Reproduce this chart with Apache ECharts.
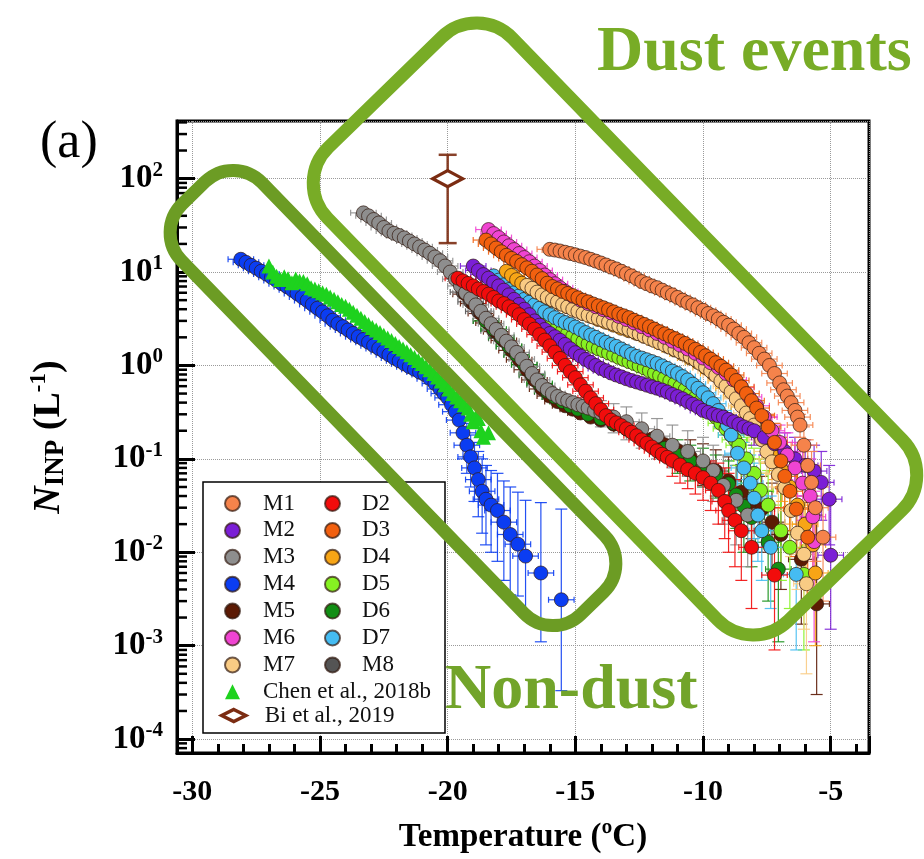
<!DOCTYPE html>
<html>
<head>
<meta charset="utf-8">
<script src="https://cdn.jsdelivr.net/npm/echarts@6/dist/echarts.min.js"></script>
<style>
  html, body { margin: 0; padding: 0; background: #fff; }
  #chart { width: 924px; height: 859px; }
</style>
</head>
<body>
<div id="chart"></div>
<script>
// INP number concentration vs. temperature, one array per sample: [T, N] or [T, N, Nlow, Nhigh]
const m1 = [[-16.0,17.5],[-15.8,17.2],[-15.6,16.8],[-15.4,16.3],[-15.2,15.8],[-15.0,15.3],[-14.8,14.8],[-14.6,14.3],[-14.4,13.7],[-14.2,13.1],[-14.0,12.5],[-13.8,11.9],[-13.6,11.3],[-13.4,10.8],[-13.2,10.2],[-13.0,9.6],[-12.8,9.1],[-12.6,8.5],[-12.4,7.9],[-12.2,7.5],[-12.0,7.1],[-11.8,6.8],[-11.6,6.4],[-11.4,6.0],[-11.2,5.7],[-11.0,5.35],[-10.8,5.0],[-10.6,4.7],[-10.4,4.45],[-10.2,4.15],[-10.0,3.9],[-9.8,3.6],[-9.6,3.4],[-9.4,3.15],[-9.2,2.9],[-9.0,2.7],[-8.8,2.45],[-8.6,2.2],[-8.4,2.0],[-8.2,1.75],[-8.0,1.55],[-7.8,1.35],[-7.6,1.17],[-7.4,1.0],[-7.2,0.82],[-7.0,0.65],[-6.85,0.55],[-6.7,0.47],[-6.55,0.4],[-6.4,0.33],[-6.3,0.28],[-6.2,0.23,0.17,0.3],[-6.05,0.14,0.08,0.22],[-5.9,0.085,0.04,0.16],[-5.75,0.056,0.02,0.12],[-5.6,0.03,0.008,0.08],[-5.3,0.0145,0.003,0.05]];
const m2 = [[-19.0,11.6],[-18.8,10.4],[-18.6,9.4],[-18.4,8.6],[-18.2,7.8],[-18.0,7.1],[-17.8,6.4],[-17.6,5.7],[-17.4,5.1],[-17.2,4.5],[-17.0,4.0],[-16.8,3.5],[-16.6,3.0],[-16.4,2.7],[-16.2,2.43],[-16.0,2.2],[-15.8,2.03],[-15.6,1.86],[-15.4,1.68],[-15.2,1.51],[-15.0,1.37],[-14.8,1.26],[-14.6,1.16],[-14.4,1.08],[-14.2,1.0],[-14.0,0.93],[-13.8,0.88],[-13.6,0.83],[-13.4,0.79],[-13.2,0.755],[-13.0,0.72],[-12.8,0.69],[-12.6,0.665],[-12.4,0.64],[-12.2,0.615],[-12.0,0.59],[-11.8,0.57],[-11.6,0.545],[-11.4,0.52],[-11.2,0.49],[-11.0,0.465],[-10.8,0.44],[-10.6,0.41],[-10.4,0.385],[-10.2,0.36],[-10.0,0.33],[-9.8,0.315],[-9.6,0.3],[-9.4,0.29],[-9.2,0.28],[-9.0,0.265],[-8.8,0.25],[-8.6,0.235],[-8.4,0.22],[-8.2,0.21],[-8.0,0.2,0.14,0.27],[-7.6,0.17,0.11,0.24],[-7.2,0.145,0.09,0.21],[-6.8,0.12,0.07,0.19],[-6.4,0.1,0.055,0.17],[-6.0,0.085,0.04,0.16],[-5.65,0.074,0.035,0.14],[-5.37,0.056,0.022,0.12],[-5.06,0.037,0.012,0.085],[-5.0,0.0093,0.0015,0.035]];
const m3 = [[-23.3,43],[-23.1,40],[-22.9,36.5],[-22.7,33.5],[-22.5,30],[-22.3,27.5],[-22.1,26],[-21.9,24.6],[-21.7,23.2],[-21.5,21.5],[-21.3,20],[-21.1,18.6],[-20.9,17.2],[-20.7,15.9],[-20.5,14.5],[-20.3,13.2],[-20.1,11.6],[-19.9,10.0],[-19.7,8.4],[-19.5,7.1],[-19.3,6.0],[-19.1,5.2],[-18.9,4.45],[-18.7,3.8],[-18.5,3.2],[-18.3,2.8],[-18.1,2.43],[-17.9,2.1],[-17.7,1.82],[-17.5,1.58],[-17.3,1.38],[-17.1,1.17],[-16.9,0.98],[-16.7,0.82],[-16.5,0.7],[-16.3,0.61],[-16.1,0.55],[-15.9,0.5],[-15.7,0.465],[-15.5,0.44],[-15.3,0.42],[-15.1,0.4],[-14.9,0.38],[-14.7,0.365],[-14.5,0.35],[-14.25,0.33],[-14.0,0.31,0.22,0.42],[-13.5,0.28,0.19,0.39],[-13.0,0.25,0.16,0.36],[-12.4,0.21,0.13,0.31],[-11.8,0.175,0.1,0.27],[-11.2,0.14,0.08,0.23],[-10.6,0.12,0.065,0.2],[-10.0,0.095,0.05,0.17],[-9.6,0.075,0.035,0.14],[-9.2,0.052,0.02,0.11],[-8.7,0.036,0.012,0.085],[-8.25,0.025,0.007,0.065]];
const m4 = [[-28.1,13.7],[-27.9,12.7],[-27.7,11.8],[-27.5,11.0],[-27.3,10.2],[-27.1,9.5],[-26.9,8.8],[-26.7,8.1],[-26.5,7.5],[-26.3,7.0],[-26.1,6.45],[-25.9,5.9],[-25.7,5.4],[-25.5,4.95],[-25.3,4.5],[-25.1,4.1],[-24.9,3.75],[-24.7,3.4],[-24.5,3.05],[-24.3,2.8],[-24.1,2.6],[-23.9,2.4],[-23.7,2.2],[-23.5,2.03],[-23.3,1.9],[-23.1,1.77],[-22.9,1.63],[-22.7,1.52],[-22.5,1.41],[-22.3,1.3],[-22.1,1.2],[-21.9,1.12],[-21.7,1.04],[-21.5,0.97],[-21.3,0.91],[-21.1,0.85],[-20.9,0.8],[-20.7,0.72],[-20.5,0.64],[-20.3,0.56],[-20.15,0.5],[-20.0,0.45],[-19.85,0.38],[-19.7,0.32],[-19.55,0.26],[-19.4,0.19,0.1,0.3],[-19.25,0.14,0.07,0.24],[-19.1,0.105,0.05,0.18],[-18.95,0.08,0.035,0.15],[-18.8,0.06,0.024,0.12],[-18.65,0.045,0.016,0.1],[-18.5,0.037,0.012,0.085],[-18.3,0.032,0.01,0.075],[-18.05,0.028,0.008,0.07],[-17.8,0.021,0.005,0.058],[-17.55,0.0155,0.0035,0.05],[-17.25,0.0122,0.0034,0.044],[-16.95,0.0091,0.0022,0.036],[-16.35,0.006,0.0011,0.034],[-15.55,0.0031,0.00033,0.029]];
const m5 = [[-19.3,5.8],[-19.0,4.6],[-18.7,3.6],[-18.4,2.85],[-18.1,2.3],[-17.8,1.85],[-17.5,1.45],[-17.2,1.15],[-16.9,0.9],[-16.6,0.7],[-16.3,0.56],[-16.0,0.47],[-15.7,0.41],[-15.4,0.37],[-15.1,0.34],[-14.8,0.31],[-14.4,0.28],[-14.0,0.26],[-13.5,0.235],[-13.0,0.21],[-12.5,0.185],[-12.0,0.163],[-11.5,0.142],[-11.0,0.123],[-10.5,0.105,0.065,0.16],[-10.0,0.09,0.052,0.145],[-9.5,0.074,0.04,0.125],[-9.0,0.058,0.029,0.105],[-8.5,0.044,0.019,0.087],[-8.1,0.035,0.014,0.075],[-7.7,0.029,0.01,0.065],[-7.3,0.021,0.006,0.055],[-6.95,0.0155,0.004,0.048],[-6.15,0.0084,0.0017,0.034],[-5.55,0.0028,0.0003,0.025]];
const m6 = [[-18.4,28.5],[-18.2,25.8],[-18.0,23.4],[-17.8,21],[-17.6,19.1],[-17.4,17.4],[-17.2,15.8],[-17.0,14.3],[-16.8,12.9],[-16.6,11.6],[-16.4,10.4],[-16.2,9.3],[-16.0,8.3],[-15.8,7.5],[-15.6,6.8],[-15.4,6.2],[-15.1,5.5],[-14.8,5.0],[-14.5,4.6],[-14.2,4.25],[-13.9,3.95],[-13.6,3.65],[-13.3,3.35],[-13.0,3.1],[-12.7,2.85],[-12.4,2.6],[-12.1,2.4],[-11.8,2.2],[-11.5,2.0],[-11.2,1.82],[-10.9,1.65],[-10.6,1.5],[-10.3,1.35],[-10.0,1.2],[-9.7,1.07],[-9.4,0.95],[-9.1,0.82],[-8.8,0.7],[-8.5,0.58],[-8.2,0.46],[-7.9,0.37],[-7.6,0.28],[-7.3,0.2,0.13,0.28],[-7.0,0.15,0.09,0.23],[-6.7,0.11,0.06,0.19],[-6.4,0.08,0.04,0.15],[-6.1,0.055,0.022,0.12],[-5.8,0.04,0.014,0.1],[-5.7,0.024,0.006,0.065],[-5.65,0.013,0.0011,0.045]];
const m7 = [[-16.9,7.2],[-16.7,6.7],[-16.5,6.1],[-16.3,5.7],[-16.1,5.35],[-15.9,5.05],[-15.7,4.8],[-15.5,4.5],[-15.3,4.25],[-15.1,4.0],[-14.9,3.8],[-14.7,3.6],[-14.5,3.45],[-14.3,3.3],[-14.1,3.18],[-13.9,3.05],[-13.7,2.9],[-13.5,2.78],[-13.3,2.65],[-13.1,2.55],[-12.9,2.43],[-12.7,2.3],[-12.5,2.18],[-12.3,2.06],[-12.1,1.95],[-11.9,1.85],[-11.7,1.75],[-11.5,1.66],[-11.3,1.57],[-11.1,1.48],[-10.9,1.4],[-10.7,1.32],[-10.5,1.24],[-10.3,1.15],[-10.1,1.05],[-9.9,0.96],[-9.7,0.87],[-9.5,0.78],[-9.3,0.68],[-9.1,0.6],[-8.9,0.52],[-8.7,0.44],[-8.5,0.37],[-8.3,0.31],[-8.15,0.27],[-8.0,0.23],[-7.85,0.19],[-7.7,0.16,0.1,0.24],[-7.5,0.12,0.07,0.2],[-7.3,0.093,0.05,0.16],[-7.05,0.068,0.03,0.13],[-6.8,0.049,0.02,0.1],[-6.55,0.028,0.009,0.07],[-6.3,0.016,0.004,0.05],[-6.05,0.0095,0.0015,0.035],[-5.95,0.0046,0.0005,0.025]];
const m8 = [[-19.4,6.1],[-19.1,4.8],[-18.8,3.8],[-18.5,3.0],[-18.2,2.35],[-17.9,1.95],[-17.6,1.6],[-17.3,1.3],[-17.0,1.02],[-16.7,0.78],[-16.4,0.62],[-16.1,0.52],[-15.8,0.46],[-15.5,0.42]];
const d2 = [[-19.6,8.6],[-19.4,8.05],[-19.2,7.55],[-19.0,7.1],[-18.8,6.6],[-18.6,6.2],[-18.4,5.8],[-18.2,5.35],[-18.0,4.9],[-17.8,4.6],[-17.6,4.25],[-17.4,3.9],[-17.2,3.5],[-17.0,3.1],[-16.8,2.78],[-16.6,2.45],[-16.4,2.14],[-16.2,1.87],[-16.0,1.62],[-15.8,1.39],[-15.6,1.19],[-15.4,1.0],[-15.2,0.86],[-15.0,0.74],[-14.8,0.62],[-14.6,0.53],[-14.4,0.45],[-14.2,0.39],[-14.0,0.335],[-13.8,0.29],[-13.6,0.26],[-13.4,0.243],[-13.2,0.227],[-13.0,0.21],[-12.8,0.193],[-12.6,0.177],[-12.4,0.16],[-12.2,0.147],[-12.0,0.134],[-11.8,0.122],[-11.6,0.112],[-11.4,0.104],[-11.2,0.096,0.065,0.13],[-10.9,0.086,0.055,0.12],[-10.6,0.077,0.048,0.11],[-10.3,0.07,0.042,0.105],[-10.0,0.063,0.036,0.1],[-9.7,0.055,0.028,0.095],[-9.4,0.046,0.02,0.09],[-9.15,0.035,0.014,0.08],[-9.0,0.028,0.01,0.07],[-8.75,0.022,0.007,0.06],[-8.5,0.017,0.005,0.05],[-8.1,0.0113,0.0025,0.04],[-7.2,0.0057,0.0009,0.03]];
const d3 = [[-18.5,22],[-18.3,20],[-18.1,18.1],[-17.9,16.5],[-17.7,15.1],[-17.5,14.0],[-17.3,13.0],[-17.1,12.0],[-16.9,11.1],[-16.7,10.2],[-16.5,9.3],[-16.3,8.5],[-16.1,7.6],[-15.9,7.0],[-15.7,6.6],[-15.5,6.2],[-15.3,5.9],[-15.1,5.6],[-14.9,5.3],[-14.7,5.0],[-14.5,4.8],[-14.3,4.55],[-14.1,4.35],[-13.9,4.15],[-13.7,3.95],[-13.5,3.75],[-13.3,3.55],[-13.1,3.4],[-12.9,3.25],[-12.7,3.05],[-12.5,2.9],[-12.3,2.75],[-12.1,2.6],[-11.9,2.45],[-11.7,2.3],[-11.5,2.18],[-11.3,2.05],[-11.1,1.94],[-10.9,1.83],[-10.7,1.72],[-10.5,1.6],[-10.3,1.49],[-10.1,1.38],[-9.9,1.27],[-9.7,1.17],[-9.5,1.07],[-9.3,0.98],[-9.1,0.89],[-8.9,0.79],[-8.7,0.69],[-8.5,0.59],[-8.3,0.5],[-8.1,0.42],[-7.9,0.35],[-7.7,0.29],[-7.45,0.22,0.15,0.3],[-7.2,0.15,0.09,0.24],[-6.95,0.095,0.05,0.17],[-6.8,0.065,0.03,0.13],[-6.6,0.045,0.017,0.1],[-6.35,0.029,0.009,0.075],[-5.9,0.0145,0.003,0.05]];
const d4 = [[-17.7,10.2],[-17.5,9.2],[-17.3,8.3],[-17.1,7.6],[-16.8,6.8],[-16.5,6.1],[-16.2,5.5],[-15.9,5.0],[-15.6,4.6],[-15.3,4.25],[-15.0,3.9],[-14.7,3.6],[-14.4,3.35],[-14.1,3.1],[-13.8,2.9],[-13.5,2.7],[-13.2,2.5],[-12.9,2.35],[-12.6,2.2],[-12.3,2.05],[-12.0,1.9],[-11.7,1.75],[-11.4,1.6],[-11.1,1.46],[-10.8,1.33],[-10.5,1.2],[-10.2,1.08],[-9.9,0.95],[-9.6,0.82],[-9.3,0.69],[-9.0,0.57],[-8.7,0.46],[-8.4,0.36],[-8.1,0.28],[-7.8,0.21],[-7.5,0.15,0.09,0.24],[-7.2,0.105,0.06,0.18],[-6.9,0.075,0.035,0.14],[-6.6,0.05,0.02,0.1],[-6.3,0.032,0.011,0.075],[-6.0,0.02,0.006,0.055],[-5.7,0.012,0.003,0.04],[-5.6,0.006,0.001,0.03]];
const d5 = [[-17.3,7.2],[-17.1,6.2],[-16.9,5.3],[-16.7,4.6],[-16.5,4.0],[-16.3,3.55],[-16.1,3.15],[-15.9,2.82],[-15.7,2.55],[-15.5,2.35],[-15.3,2.2],[-15.1,2.06],[-14.9,1.92],[-14.7,1.8],[-14.5,1.7],[-14.3,1.6],[-14.1,1.51],[-13.9,1.44],[-13.7,1.36],[-13.5,1.29],[-13.3,1.22],[-13.1,1.16],[-12.9,1.1],[-12.7,1.05],[-12.5,0.99],[-12.3,0.94],[-12.1,0.88],[-11.9,0.83],[-11.7,0.78],[-11.5,0.73],[-11.3,0.68],[-11.1,0.64],[-10.9,0.59],[-10.7,0.55],[-10.5,0.5],[-10.3,0.45],[-10.1,0.41],[-9.9,0.37],[-9.7,0.32],[-9.5,0.28],[-9.3,0.24],[-9.1,0.21],[-8.9,0.18],[-8.75,0.16],[-8.6,0.14,0.085,0.22],[-8.3,0.1,0.055,0.17],[-8.0,0.07,0.032,0.13],[-7.75,0.046,0.018,0.1],[-7.45,0.032,0.011,0.075],[-6.95,0.017,0.005,0.05],[-6.6,0.0113,0.0025,0.04],[-6.05,0.0058,0.0009,0.03]];
const d6 = [[-18.5,3.0],[-18.2,2.45],[-17.9,2.0],[-17.6,1.6],[-17.3,1.3],[-17.0,1.02],[-16.7,0.8],[-16.4,0.64],[-16.1,0.53],[-15.8,0.46],[-15.5,0.41],[-15.2,0.37],[-14.9,0.34],[-14.5,0.3],[-14.0,0.27],[-13.5,0.24],[-13.0,0.21],[-12.5,0.18],[-12.0,0.155],[-11.5,0.13],[-11.0,0.11,0.07,0.16],[-10.5,0.095,0.058,0.14],[-10.0,0.083,0.05,0.13],[-9.5,0.068,0.038,0.11],[-9.0,0.054,0.027,0.095],[-8.7,0.041,0.018,0.085],[-8.4,0.031,0.01,0.075],[-8.1,0.0235,0.007,0.06],[-7.45,0.0128,0.003,0.045],[-7.05,0.0066,0.0011,0.03]];
const d7 = [[-18.2,9.1],[-18.0,8.2],[-17.8,7.3],[-17.6,6.5],[-17.4,6.0],[-17.2,5.55],[-17.0,5.1],[-16.8,4.75],[-16.6,4.45],[-16.4,4.1],[-16.2,3.75],[-16.0,3.5],[-15.8,3.25],[-15.6,3.05],[-15.4,2.88],[-15.2,2.75],[-15.0,2.58],[-14.8,2.42],[-14.6,2.25],[-14.4,2.12],[-14.2,2.0],[-14.0,1.88],[-13.8,1.77],[-13.6,1.68],[-13.4,1.6],[-13.2,1.5],[-13.0,1.41],[-12.8,1.32],[-12.6,1.25],[-12.4,1.2],[-12.2,1.15],[-12.0,1.1],[-11.8,1.05],[-11.6,0.99],[-11.4,0.93],[-11.2,0.87],[-11.0,0.82],[-10.8,0.76],[-10.6,0.7],[-10.4,0.63],[-10.2,0.57],[-10.0,0.51],[-9.8,0.45],[-9.6,0.39],[-9.4,0.33],[-9.2,0.28],[-9.05,0.23],[-8.9,0.18,0.11,0.27],[-8.65,0.115,0.06,0.19],[-8.4,0.08,0.04,0.15],[-8.15,0.055,0.024,0.11],[-8.0,0.038,0.014,0.09],[-7.85,0.025,0.008,0.068],[-7.7,0.017,0.005,0.05],[-7.35,0.0113,0.0025,0.04],[-6.35,0.0058,0.0009,0.03]];
const chen2018b = [[-27.0,11.6],[-26.85,10.0],[-26.7,9.0],[-26.55,8.3],[-26.4,8.9],[-26.25,8.5],[-26.1,7.7],[-25.95,8.4],[-25.8,8.0],[-25.65,7.9],[-25.5,7.5],[-25.35,6.8],[-25.2,6.6],[-25.05,6.3],[-24.9,6.0],[-24.75,5.8],[-24.6,5.4],[-24.45,5.1],[-24.3,4.8],[-24.15,4.5],[-24.0,4.3],[-23.85,4.0],[-23.7,3.7],[-23.55,3.45],[-23.4,3.2],[-23.25,2.95],[-23.1,2.75],[-22.95,2.55],[-22.8,2.4],[-22.65,2.25],[-22.5,2.1],[-22.35,1.97],[-22.2,1.85],[-22.05,1.72],[-21.9,1.6],[-21.75,1.5],[-21.6,1.4],[-21.45,1.3],[-21.3,1.22],[-21.15,1.13],[-21.0,1.05],[-20.85,0.97],[-20.7,0.9],[-20.55,0.82],[-20.4,0.75],[-20.25,0.68],[-20.1,0.62],[-19.95,0.56],[-19.8,0.5],[-19.65,0.46],[-19.5,0.42],[-19.35,0.38],[-19.2,0.35],[-19.1,0.3],[-19.0,0.25],[-18.9,0.28],[-18.8,0.27],[-18.7,0.2],[-18.6,0.17],[-18.4,0.19]];
const bi2019 = [[-20.0,100,20.4,180]];

// temperature uncertainty (±, °C) shown as horizontal bars
const tempErr = 0.5;

// axis extents and legend entries
const xMin = -30.6, xMax = -3.5;
const yMin = Math.pow(10, -4.149), yMax = Math.pow(10, 2.617);
const legendLeft = ['M1','M2','M3','M4','M5','M6','M7','Chen et al., 2018b'];
const legendRight = ['D2','D3','D4','D5','D6','D7','M8'];
const legendBi = [{ name: 'Bi et al., 2019', itemStyle: { borderWidth: 3.5 } }];

const SERIF = '"Liberation Serif", "Times New Roman", serif';

// drawing order, bottom to top
const groups = [
  { name: 'M8', data: m8, color: '#545454' },
  { name: 'M5', data: m5, color: '#5C1A04' },
  { name: 'D6', data: d6, color: '#128E14' },
  { name: 'M3', data: m3, color: '#8E8E8E' },
  { name: 'D5', data: d5, color: '#86F222' },
  { name: 'D7', data: d7, color: '#45BCF2' },
  { name: 'D4', data: d4, color: '#F7A516' },
  { name: 'M7', data: m7, color: '#F9CB84' },
  { name: 'M2', data: m2, color: '#7B1FD6' },
  { name: 'D2', data: d2, color: '#F20C0C' },
  { name: 'M6', data: m6, color: '#F044D2' },
  { name: 'D3', data: d3, color: '#F2600F' },
  { name: 'M1', data: m1, color: '#F5834B' },
  { name: 'M4', data: m4, color: '#0B3DF2' },
  { name: 'Chen et al., 2018b', data: chen2018b, color: '#1ED21E', symbol: 'triangle', size: 15, noBars: true },
  { name: 'Bi et al., 2019', data: bi2019, color: '#7B2C12', symbol: 'diamond', size: [30, 16], tErr: 0, capW: 9, lw: 2.5 }
];

function seg(x1, y1, x2, y2, style) {
  return { type: 'line', shape: { x1: x1, y1: y1, x2: x2, y2: y2 }, style: style };
}

function makeErrorBars(color, tErr, capW, lw) {
  return function (params, api) {
    const t = api.value(0), n = api.value(1), lo = api.value(2), hi = api.value(3);
    const style = { stroke: color, lineWidth: lw, opacity: 0.9 };
    const kids = [];
    if (tErr > 0) {
      const a = api.coord([t - tErr, n]), b = api.coord([t + tErr, n]);
      kids.push(seg(a[0], a[1], b[0], b[1], style));
      kids.push(seg(a[0], a[1] - 3, a[0], a[1] + 3, style));
      kids.push(seg(b[0], b[1] - 3, b[0], b[1] + 3, style));
    }
    if (lo > 0 && hi > 0) {
      const a = api.coord([t, lo]), b = api.coord([t, hi]);
      kids.push(seg(a[0], a[1], b[0], b[1], style));
      kids.push(seg(a[0] - capW, a[1], a[0] + capW, a[1], style));
      kids.push(seg(b[0] - capW, b[1], b[0] + capW, b[1], style));
    }
    return { type: 'group', children: kids };
  };
}

const series = [];
groups.forEach(function (g) {
  if (!g.noBars) {
    series.push({
      type: 'custom',
      name: g.name + ' error',
      silent: true,
      renderItem: makeErrorBars(g.color, g.tErr === undefined ? tempErr : g.tErr, g.capW || 6, g.lw || 1.2),
      data: g.data.map(function (p) { return [p[0], p[1], p[2] || 0, p[3] || 0]; }),
      encode: { x: 0, y: 1 },
      clip: false,
      z: 2
    });
  }
  const isBi = g.symbol === 'diamond';
  series.push({
    type: 'scatter',
    name: g.name,
    data: g.data.map(function (p) { return [p[0], p[1]]; }),
    symbol: g.symbol || 'circle',
    symbolSize: g.size || 14,
    itemStyle: isBi
      ? { color: '#fff', borderColor: g.color, borderWidth: 3.5, opacity: 1 }
      : (g.symbol === 'triangle'
        ? { color: g.color, opacity: 1 }
        : { color: g.color, borderColor: 'rgba(50,25,15,0.7)', borderWidth: 1, opacity: 1 }),
    emphasis: { disabled: true },
    z: 2
  });
});

// logarithmic minor ticks on the left axis
const yMinor = [];
for (let k = -5; k <= 2; k++) {
  for (let m = 2; m <= 9; m++) {
    const v = m * Math.pow(10, k);
    if (v > yMin && v < yMax) yMinor.push([xMin, v]);
  }
}
series.push({
  type: 'custom',
  name: 'minor ticks',
  silent: true,
  clip: false,
  encode: { x: 0, y: 1 },
  data: yMinor,
  renderItem: function (params, api) {
    const y = api.coord([api.value(0), api.value(1)])[1];
    const x0 = params.coordSys.x;
    return seg(x0, y, x0 + 10, y, { stroke: '#000', lineWidth: 2.5 });
  },
  z: 3
});

const legendText = { fontFamily: SERIF, fontSize: 23, color: '#111', lineHeight: 20 };

const option = {
  animation: false,
  backgroundColor: '#fff',
  textStyle: { fontFamily: SERIF },
  grid: { left: 177, right: 55, top: 121, bottom: 103, show: true, borderColor: '#000', borderWidth: 3, backgroundColor: 'transparent' },
  xAxis: {
    type: 'value',
    min: xMin,
    max: xMax,
    splitNumber: 5,
    name: 'Temperature (ºC)',
    nameLocation: 'middle',
    nameGap: 68,
    nameTextStyle: { fontFamily: SERIF, fontWeight: 'bold', fontSize: 33, color: '#000' },
    axisLine: { show: true, lineStyle: { color: '#000', width: 3 } },
    axisTick: { show: true, inside: true, length: 17, lineStyle: { color: '#000', width: 3 } },
    minorTick: { show: true, splitNumber: 5, length: 9, lineStyle: { color: '#000', width: 3 } },
    axisLabel: {
      margin: 24,
      showMinLabel: false,
      showMaxLabel: false,
      fontFamily: SERIF, fontWeight: 'bold', fontSize: 30, color: '#000',
      formatter: function (v) { return Math.abs(v - Math.round(v)) < 1e-6 ? String(Math.round(v)) : ''; }
    },
    splitLine: { show: true, lineStyle: { color: '#9a9a9a', type: 'dotted', width: 1 } }
  },
  yAxis: {
    type: 'log',
    logBase: 10,
    min: yMin,
    max: yMax,
    name: '{i|N}{sub|INP}{p| (L}{sup|-1}{p|)}',
    nameLocation: 'middle',
    nameRotate: 90,
    nameGap: 107,
    nameTextStyle: {
      color: '#000',
      rich: {
        i: { fontFamily: SERIF, fontStyle: 'italic', fontWeight: 'bold', fontSize: 38, lineHeight: 42, color: '#000' },
        sub: { fontFamily: SERIF, fontWeight: 'bold', fontSize: 27, lineHeight: 26, verticalAlign: 'bottom', color: '#000' },
        p: { fontFamily: SERIF, fontWeight: 'bold', fontSize: 38, lineHeight: 42, color: '#000' },
        sup: { fontFamily: SERIF, fontWeight: 'bold', fontSize: 23, lineHeight: 20, verticalAlign: 'top', color: '#000' }
      }
    },
    axisLine: { show: true, lineStyle: { color: '#000', width: 3 } },
    axisTick: { show: true, inside: true, length: 18, lineStyle: { color: '#000', width: 3 } },
    axisLabel: {
      margin: 14,
      showMinLabel: false,
      showMaxLabel: false,
      formatter: function (v) {
        const e = Math.log10(v), r = Math.round(e);
        if (Math.abs(e - r) > 1e-6) return '';
        return '{b|10}{s|' + r + '}';
      },
      rich: {
        b: { fontFamily: SERIF, fontWeight: 'bold', fontSize: 33, lineHeight: 38, color: '#000' },
        s: { fontFamily: SERIF, fontWeight: 'bold', fontSize: 21, lineHeight: 18, verticalAlign: 'top', color: '#000' }
      }
    },
    splitLine: { show: true, lineStyle: { color: '#9a9a9a', type: 'dotted', width: 1 } }
  },
  legend: [
    {
      data: legendLeft, orient: 'vertical', left: 224, top: 492, padding: 0,
      itemWidth: 15, itemHeight: 15, itemGap: 3.9, selectedMode: false, z: 6,
      textStyle: Object.assign({ padding: [0, 0, 0, 18] }, legendText)
    },
    {
      data: legendRight, orient: 'vertical', left: 324, top: 492, padding: 0,
      itemWidth: 15, itemHeight: 15, itemGap: 3.9, selectedMode: false, z: 6,
      textStyle: Object.assign({ padding: [0, 0, 0, 17] }, legendText)
    },
    {
      data: legendBi, orient: 'vertical', left: 220, top: 704, padding: 0,
      itemWidth: 24, itemHeight: 12, symbolKeepAspect: false, selectedMode: false, z: 6,
      textStyle: Object.assign({ padding: [0, 0, 0, 14] }, legendText)
    }
  ],
  graphic: [
    { type: 'rect', z: 5, shape: { x: 203, y: 482, width: 242, height: 251 }, style: { fill: '#fff', stroke: '#000', lineWidth: 1.5 } },
    { type: 'text', z: 10, left: 40, top: 117, style: { text: '(a)', fontFamily: SERIF, fontSize: 52, fill: '#000' } },
    {
      type: 'rect', z: 10, x: 615, y: 329, rotation: -0.80,
      shape: { x: -330, y: -129, width: 660, height: 258, r: 50 },
      style: { fill: 'none', stroke: '#78AC26', lineWidth: 13 }
    },
    {
      type: 'rect', z: 10, x: 393, y: 398, rotation: -0.80,
      shape: { x: -286, y: -56, width: 572, height: 112, r: 40 },
      style: { fill: 'none', stroke: '#6C9C24', lineWidth: 13 }
    },
    { type: 'text', z: 11, left: 597, top: 21, style: { text: 'Dust events', fontFamily: SERIF, fontWeight: 'bold', fontSize: 64, fill: '#78AC26' } },
    { type: 'text', z: 11, left: 445, top: 659, style: { text: 'Non-dust', fontFamily: SERIF, fontWeight: 'bold', fontSize: 64, fill: '#72A42A' } }
  ],
  series: series
};

const chart = echarts.init(document.getElementById('chart'), null, { renderer: 'canvas' });
chart.setOption(option);
</script>
</body>
</html>
